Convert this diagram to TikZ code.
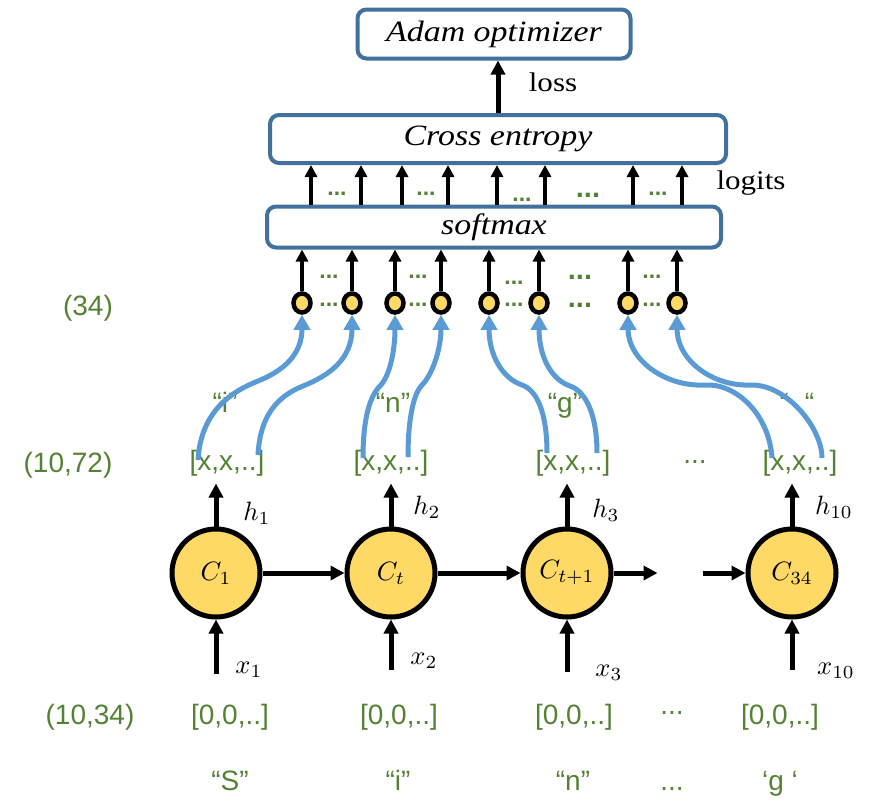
\documentclass[tikz,border=0pt]{standalone}
\usepackage{fontspec}
\setsansfont{Liberation Sans}
\newfontfamily\serifw[FakeStretch=1.15]{Liberation Serif}
\usetikzlibrary{arrows.meta,shapes.geometric,calc}
\definecolor{boxblue}{RGB}{65,113,156}
\definecolor{curveblue}{RGB}{91,155,213}
\definecolor{cellfill}{RGB}{255,217,102}
\definecolor{lblgreen}{RGB}{84,130,53}
\newcommand{\bigmath}[1]{\scalebox{2.65}{$#1$}}

\begin{document}
\begin{tikzpicture}[x=1pt,y=-1pt,
  layerbox/.style={draw=boxblue, line width=4pt, rounded corners=9pt, fill=white,
    inner sep=0pt, font=\serifw\itshape\fontsize{29.5}{32}\selectfont},
  plain/.style={inner sep=0pt, font=\serifw\fontsize{27}{30}\selectfont},
  cell/.style={circle, draw, line width=5pt, fill=cellfill, minimum size=88pt,
    inner sep=0pt},
  unit/.style={ellipse, draw, line width=4.5pt, fill=cellfill, minimum width=17pt,
    minimum height=19pt, inner sep=0pt},
  greenlbl/.style={text=lblgreen, inner sep=0pt, font=\sffamily\fontsize{28}{32}\selectfont},
  gdots/.style={text=lblgreen, inner sep=0pt, font=\sffamily\bfseries\fontsize{23}{24}\selectfont},
  bigdots/.style={text=lblgreen, inner sep=0pt, font=\sffamily\bfseries\fontsize{29}{30}\selectfont},
  mathlbl/.style={inner sep=0pt},
  blk/.style={line width=5pt, -{Triangle[width=14pt,length=14pt]}},
  blkthin/.style={line width=4pt, -{Triangle[width=12pt,length=12pt]}},
  flow/.style={draw=curveblue, line width=5pt, -{Triangle[width=16pt,length=15pt]}}]

\useasboundingbox (0,0) rectangle (872,807);

% layers at the top
\node[layerbox, minimum width=273pt, minimum height=49pt] (adam) at (494,34) {Adam optimizer};
\node[layerbox, minimum width=456pt, minimum height=48pt] (ce) at (498,139) {Cross entropy};
\node[layerbox, minimum width=454pt, minimum height=41pt] (sm) at (494,227) {softmax};

\draw[blk] (498,0 |- ce.north) -- (498,0 |- adam.south);
\node[plain] (loss) at (553,82) {loss};
\node[plain] (logits) at (751,183) {logits};

% logits between softmax and cross entropy
\foreach \px in {311,361,402,448,497,545,633,682}
  \draw[blkthin] (\px,0 |- sm.north) -- (\px,0 |- ce.south);
\node[gdots] (d1) at (337,194) {...};
\node[gdots] (d2) at (426,194) {...};
\node[gdots] (d3) at (522,200) {...};
\node[bigdots] (d4) at (588,195) {...};
\node[gdots] (d5) at (658,194) {...};

% output units
\foreach \i/\px in {1/302,2/352,3/395,4/441,5/489,6/539,7/628,8/677} {
  \node[unit] (u\i) at (\px,303) {};
  \draw[blkthin] (u\i.north) -- (u\i |- sm.south);
}
\foreach \px in {329,418,652} {
  \node[gdots] at (\px,277) {...};
  \node[gdots] at (\px,305) {...};
}
\node[gdots] (e3) at (514,283) {...};
\node[gdots] (f3) at (514,305) {...};
\node[bigdots] (e4) at (580,277) {...};
\node[bigdots] (f4) at (580,305) {...};

% shape labels
\node[greenlbl] (dim34) at (88,308) {(34)};
\node[greenlbl] (dim1072) at (68,465) {(10,72)};
\node[greenlbl] (dim1034) at (90,717) {(10,34)};

% hidden states
\node[greenlbl] (b1) at (227,463) {[x,x,..]};
\node[greenlbl] (b2) at (391,463) {[x,x,..]};
\node[greenlbl] (b3) at (573,463) {[x,x,..]};
\node[greenlbl] (b4) at (800,463) {[x,x,..]};
\node[greenlbl] (bd) at (695,462) {...};

% predicted characters
\node[greenlbl, anchor=base] (q1) at (225,412) {“i”};
\node[greenlbl, anchor=base] (q2) at (393,412) {“n”};
\node[greenlbl, anchor=base] (q3) at (565,412) {“g”};
\node[greenlbl, anchor=base] (q4) at (797,412) {“\ \ “};

% recurrent cells
\node[cell] (c1) at (216,573) {\bigmath{C_1}};
\node[cell] (c2) at (391,573) {\bigmath{C_t}};
\node[cell] (c3) at (567,573) {\bigmath{C_{t+1}}};
\node[cell] (c4) at (792,573) {\bigmath{C_{34}}};

\draw[blk] (c1.east) -- (c2.west);
\draw[blk] (c2.east) -- (c3.west);
\draw[blk] (c3.east) -- ++(44,0);
\draw[blk] (c4.west) ++(-43,0) -- (c4.west);

\foreach \c in {c1,c2,c3,c4}
  \draw[blk] (\c.north) -- ++(0,-43);
\draw[blk] (c1.south) ++(0,54) -- (c1.south);
\draw[blk] (c2.south) ++(0,50) -- (c2.south);
\draw[blk] (c3.south) ++(0,52) -- (c3.south);
\draw[blk] (c4.south) ++(0,50) -- (c4.south);

\node[mathlbl] (h1) at (257,513) {\bigmath{h_1}};
\node[mathlbl] (h2) at (427,507) {\bigmath{h_2}};
\node[mathlbl] (h3) at (606,510) {\bigmath{h_3}};
\node[mathlbl] (h4) at (834,507) {\bigmath{h_{10}}};
\node[mathlbl] (x1) at (249,670) {\bigmath{x_1}};
\node[mathlbl] (x2) at (424,661) {\bigmath{x_2}};
\node[mathlbl] (x3) at (609,673) {\bigmath{x_3}};
\node[mathlbl] (x4) at (836,671) {\bigmath{x_{10}}};

% one-hot inputs
\node[greenlbl] (z1) at (230,717) {[0,0,..]};
\node[greenlbl] (z2) at (399,717) {[0,0,..]};
\node[greenlbl] (z3) at (574,717) {[0,0,..]};
\node[greenlbl] (z4) at (780,717) {[0,0,..]};
\node[greenlbl] (zd) at (672,713) {...};

\node[greenlbl, anchor=base] (s1l) at (230,790) {“S”};
\node[greenlbl, anchor=base] (s2l) at (398,790) {“i”};
\node[greenlbl, anchor=base] (s3l) at (573,790) {“n”};
\node[greenlbl, anchor=base] (sdl) at (672,790) {...};
\node[greenlbl, anchor=base] (s4l) at (780,790) {‘g ‘};

% hidden state features feeding the output units
\coordinate (s1) at (198,460);
\coordinate (s2) at (258,455);
\coordinate (s3) at (363,458);
\coordinate (s4) at (408,457);
\coordinate (s5) at (547,453);
\coordinate (s6) at (597,453);
\coordinate (s7) at (772,458);
\coordinate (s8) at (822,458);

\draw[flow] (s1) .. controls +(3,-50) and +(-25,10) .. (258,381)
                 .. controls +(25,-10) and +(0,40) .. (u1.south);
\draw[flow] (s2) .. controls +(2,-40) and +(-25,10) .. (303,386)
                 .. controls +(25,-10) and +(0,45) .. (u2.south);
\draw[flow] (s3) .. controls +(0,-40) and +(-10,10) .. (380,386)
                 .. controls +(10,-10) and +(0,35) .. (u3.south);
\draw[flow] (s4) .. controls +(0,-40) and +(-8,8) .. (422,385)
                 .. controls +(10,-10) and +(0,35) .. (u4.south);
\draw[flow] (s5) .. controls +(0,-40) and +(15,5) .. (522,385)
                 .. controls +(-20,-7) and +(0,40) .. (u5.south);
\draw[flow] (s6) .. controls +(0,-40) and +(15,5) .. (570,386)
                 .. controls +(-20,-7) and +(0,40) .. (u6.south);
\draw[flow] (s7) .. controls +(-3,-45) and +(30,-2) .. (705,385)
                 .. controls +(-40,2) and +(0,45) .. (u7.south);
\draw[flow] (s8) .. controls +(0,-30) and +(35,0) .. (752,385)
                 .. controls +(-40,2) and +(0,45) .. (u8.south);
\end{tikzpicture}
\end{document}
